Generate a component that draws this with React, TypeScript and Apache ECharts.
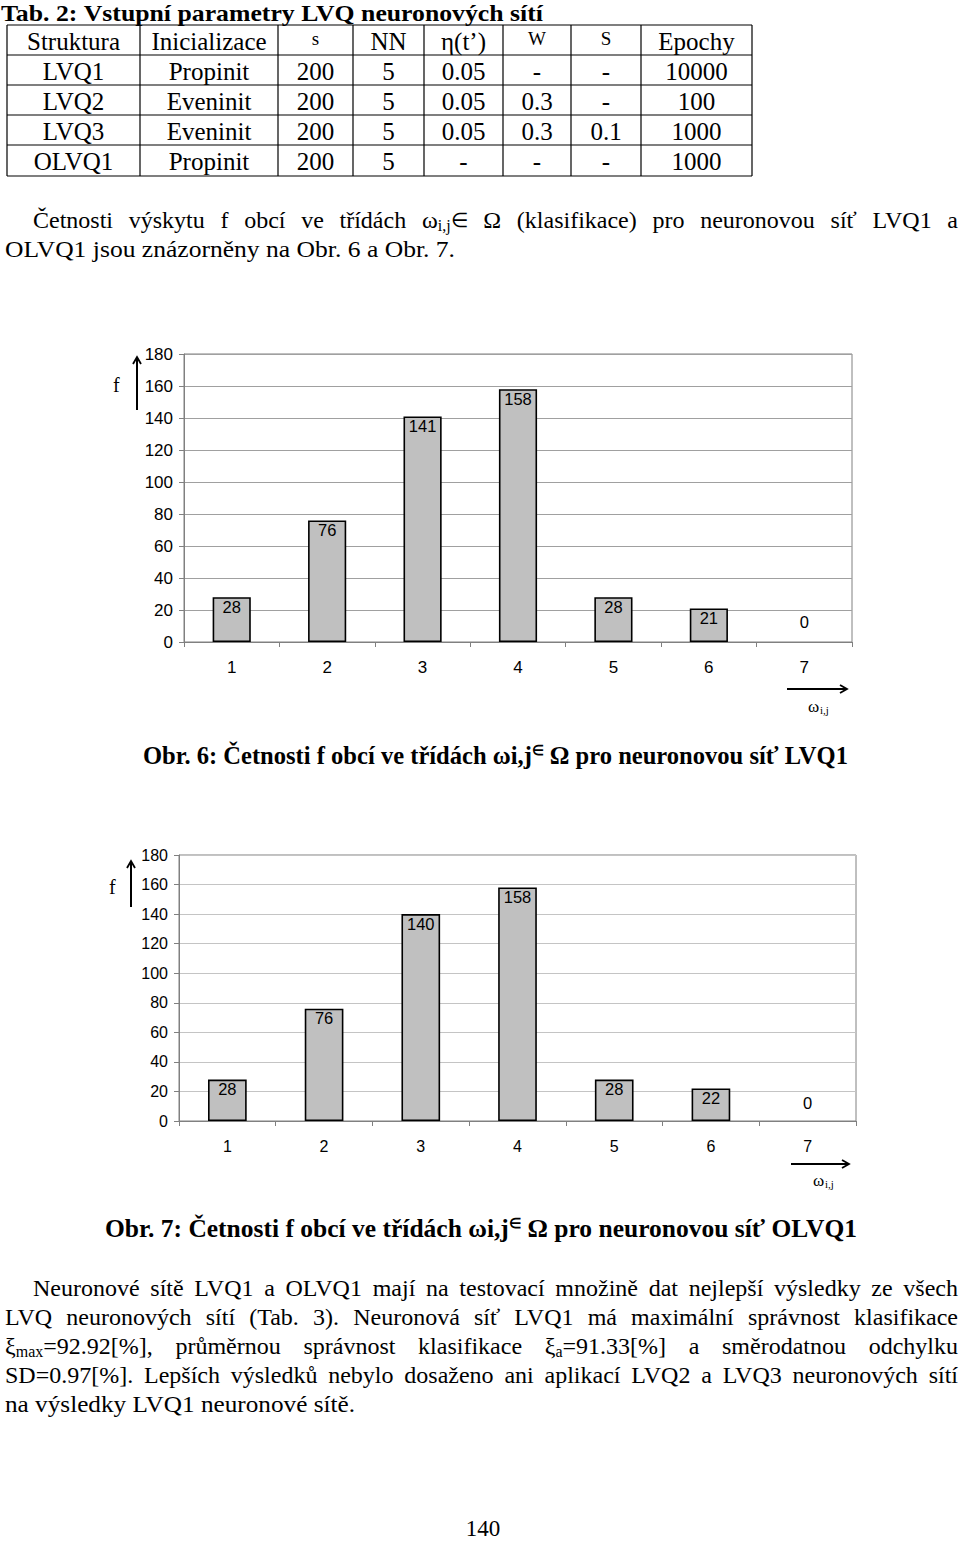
import React, { useEffect, useRef } from 'react';
import * as echarts from 'echarts';

// ---------- data ----------
const categories = ['1', '2', '3', '4', '5', '6', '7'];
const lvq1Counts = [28, 76, 141, 158, 28, 21, 0];
const olvq1Counts = [28, 76, 140, 158, 28, 22, 0];
const yMin = 0;
const yMax = 180;
const yStep = 20;

const tableHeader = ['Struktura', 'Inicializace', 's', 'NN', 'η(t’)', 'W', 'S', 'Epochy'];
const tableRows = [
  ['LVQ1', 'Propinit', '200', '5', '0.05', '-', '-', '10000'],
  ['LVQ2', 'Eveninit', '200', '5', '0.05', '0.3', '-', '100'],
  ['LVQ3', 'Eveninit', '200', '5', '0.05', '0.3', '0.1', '1000'],
  ['OLVQ1', 'Propinit', '200', '5', '-', '-', '-', '1000'],
];

// ---------- layout ----------
const SERIF = '"Liberation Serif", "Times New Roman", serif';
const SANS = '"Liberation Sans", Arial, sans-serif';
const colX = [7, 140, 278, 353, 424, 503, 571, 641, 752];
const rowY = [25, 55, 85, 115, 145, 176];

type Seg = { t: string; s?: number; dy?: number; b?: boolean };

let ctx: CanvasRenderingContext2D | null = null;
function mw(text: string, size: number, bold: boolean): number {
  if (!ctx) ctx = document.createElement('canvas').getContext('2d');
  ctx!.font = `${bold ? 'bold ' : ''}${size}px ${SERIF}`;
  return ctx!.measureText(text).width;
}
const words = (s: string): Seg[][] => s.split(' ').map((w) => [{ t: w }]);

function txt(x: number, y: number, text: string, size: number, o: any = {}) {
  return {
    type: 'text',
    x,
    y,
    silent: true,
    style: {
      text,
      fontSize: size,
      fontFamily: o.family || SERIF,
      fontWeight: o.bold ? 'bold' : 'normal',
      fill: o.color || '#000',
      textAlign: o.align || 'left',
      textVerticalAlign: 'middle',
    },
  };
}

// mode: 'justify' -> word spacing stretched to x1; 'fit' -> scaled to x1; 'left' -> natural
function line(tokens: Seg[][], x0: number, x1: number, yc: number, size: number, bold: boolean, mode: string) {
  const widths = tokens.map((tk) => tk.reduce((a, sg) => a + mw(sg.t, sg.s ?? size, sg.b ?? bold), 0));
  const total = widths.reduce((a, b) => a + b, 0);
  const sp = mw(' ', size, bold);
  let scale = 1;
  let gap = sp;
  if (mode === 'justify') {
    gap = (x1 - x0 - total) / (tokens.length - 1);
  } else if (mode === 'fit') {
    scale = (x1 - x0) / (total + sp * (tokens.length - 1));
  }
  const children: any[] = [];
  let cx = 0;
  tokens.forEach((tk) => {
    tk.forEach((sg) => {
      const s = sg.s ?? size;
      const b = sg.b ?? bold;
      children.push(txt(cx, sg.dy || 0, sg.t, s, { bold: b }));
      cx += mw(sg.t, s, b);
    });
    cx += gap;
  });
  return { type: 'group', x: x0, y: yc, scaleX: scale, children };
}

function arrowUp(x: number, yTop: number, yBot: number) {
  return [
    { type: 'line', silent: true, shape: { x1: x, y1: yBot, x2: x, y2: yTop + 1 }, style: { stroke: '#000', lineWidth: 2 } },
    { type: 'polyline', silent: true, shape: { points: [[x - 4, yTop + 7], [x, yTop], [x + 4, yTop + 7]] }, style: { stroke: '#000', lineWidth: 1.8, fill: 'none' } },
  ];
}
function arrowRight(x0: number, x1: number, y: number) {
  return [
    { type: 'line', silent: true, shape: { x1: x0, y1: y, x2: x1 - 1, y2: y }, style: { stroke: '#000', lineWidth: 2 } },
    { type: 'polyline', silent: true, shape: { points: [[x1 - 7, y - 4], [x1, y], [x1 - 7, y + 4]] }, style: { stroke: '#000', lineWidth: 1.8, fill: 'none' } },
  ];
}
function omega(x: number, y: number) {
  return [txt(x, y, 'ω', 17), txt(x + 12, y + 4, 'i,j', 11)];
}

function buildGraphic() {
  const els: any[] = [];
  // title
  els.push(line(words('Tab. 2: Vstupní parametry LVQ neuronových sítí'), 1, 543, 13, 24, true, 'fit'));
  // table grid
  rowY.forEach((y) => els.push({ type: 'line', silent: true, shape: { x1: colX[0], y1: y, x2: colX[colX.length - 1], y2: y }, style: { stroke: '#000', lineWidth: 1.2 } }));
  colX.forEach((x) => els.push({ type: 'line', silent: true, shape: { x1: x, y1: rowY[0], x2: x, y2: rowY[rowY.length - 1] }, style: { stroke: '#000', lineWidth: 1.2 } }));
  // table text
  const small = ['s', 'W', 'S'];
  tableHeader.forEach((h, i) => {
    const cxm = (colX[i] + colX[i + 1]) / 2;
    const isSmall = small.includes(h);
    els.push(txt(cxm, isSmall ? 38 : 41, h, isSmall ? 19 : 25, { align: 'center' }));
  });
  tableRows.forEach((r, ri) => {
    r.forEach((c, i) => {
      const cxm = (colX[i] + colX[i + 1]) / 2;
      els.push(txt(cxm, (rowY[ri + 1] + rowY[ri + 2]) / 2 + 1, c, 25, { align: 'center' }));
    });
  });
  // paragraph 1
  els.push(
    line(
      [
        ...words('Četnosti výskytu f obcí ve třídách'),
        [{ t: 'ω' }, { t: 'i,j', s: 16, dy: 5 }, { t: '∈', s: 20 }],
        ...words('Ω (klasifikace) pro neuronovou síť LVQ1 a'),
      ],
      33, 958, 220, 24, false, 'justify'
    )
  );
  els.push(line(words('OLVQ1 jsou znázorněny na Obr. 6 a Obr. 7.'), 5, 455, 249, 24, false, 'fit'));

  // chart 1 decorations
  els.push(txt(113, 385, 'f', 20));
  els.push(...arrowUp(137, 357, 410));
  els.push(...arrowRight(787, 847, 689));
  els.push(...omega(808, 706));
  els.push(
    line(
      [...words('Obr. 6: Četnosti f obcí ve třídách'), [{ t: 'ωi,j' }, { t: '∈', s: 14, dy: -5 }], ...words('Ω pro neuronovou síť LVQ1')],
      143, 848, 755, 25, true, 'fit'
    )
  );

  // chart 2 decorations
  els.push(txt(109, 887, 'f', 20));
  els.push(...arrowUp(131, 861, 907));
  els.push(...arrowRight(791, 849, 1164));
  els.push(...omega(813, 1180));
  els.push(
    line(
      [...words('Obr. 7: Četnosti f obcí ve třídách'), [{ t: 'ωi,j' }, { t: '∈', s: 14, dy: -5 }], ...words('Ω pro neuronovou síť OLVQ1')],
      105, 857, 1228, 25, true, 'fit'
    )
  );

  // paragraph 2
  const y0 = 1288;
  const lh = 29;
  els.push(line(words('Neuronové sítě LVQ1 a OLVQ1 mají na testovací množině dat nejlepší výsledky ze všech'), 33, 958, y0, 24, false, 'justify'));
  els.push(line(words('LVQ neuronových sítí (Tab. 3). Neuronová síť LVQ1 má maximální správnost klasifikace'), 5, 958, y0 + lh, 24, false, 'justify'));
  els.push(
    line(
      [
        [{ t: 'ξ' }, { t: 'max', s: 16, dy: 5 }, { t: '=92.92[%],' }],
        ...words('průměrnou správnost klasifikace'),
        [{ t: 'ξ' }, { t: 'a', s: 16, dy: 5 }, { t: '=91.33[%]' }],
        ...words('a směrodatnou odchylku'),
      ],
      5, 958, y0 + 2 * lh, 24, false, 'justify'
    )
  );
  els.push(line(words('SD=0.97[%]. Lepších výsledků nebylo dosaženo ani aplikací LVQ2 a LVQ3 neuronových sítí'), 5, 958, y0 + 3 * lh, 24, false, 'justify'));
  els.push(line(words('na výsledky LVQ1 neuronové sítě.'), 5, 355, y0 + 4 * lh, 24, false, 'fit'));

  // page number
  els.push(txt(483, 1528, '140', 23, { align: 'center' }));
  return els;
}

function axes(gridIndex: number, fontSize: number, gridColor: string) {
  const x = {
    gridIndex,
    type: 'category',
    data: categories,
    axisLine: { lineStyle: { color: '#808080', width: 1 } },
    axisTick: { show: true, length: 5, lineStyle: { color: '#808080' } },
    axisLabel: { color: '#000', fontSize, fontFamily: SANS, margin: 17 },
    splitLine: { show: false },
  };
  const y = {
    gridIndex,
    type: 'value',
    min: yMin,
    max: yMax,
    interval: yStep,
    axisLine: { show: true, lineStyle: { color: '#808080', width: 1 } },
    axisTick: { show: true, length: 5, lineStyle: { color: '#808080' } },
    axisLabel: { color: '#000', fontSize, fontFamily: SANS, margin: 11 },
    splitLine: { show: true, lineStyle: { color: gridColor, width: 1 } },
  };
  return { x, y };
}

function bars(values: number[], idx: number, zeroDist: number) {
  return {
    type: 'bar',
    xAxisIndex: idx,
    yAxisIndex: idx,
    barWidth: '40%',
    data: values.map((v) =>
      v === 0 ? { value: v, itemStyle: { borderWidth: 0, color: 'transparent' }, label: { position: 'top', distance: zeroDist } } : v
    ),
    itemStyle: { color: '#c0c0c0', borderColor: '#000', borderWidth: 1.6 },
    label: { show: true, position: 'insideTop', distance: 1, fontSize: 16.5, fontFamily: SANS, color: '#000' },
  };
}

export default function App() {
  const ref = useRef<HTMLDivElement>(null);
  useEffect(() => {
    if (!ref.current) return;
    const chart = echarts.init(ref.current, undefined, { renderer: 'svg' });
    const a1 = axes(0, 17, '#a0a0a0');
    const a2 = axes(1, 16, '#c4c4c4');
    chart.setOption({
      animation: false,
      backgroundColor: '#fff',
      grid: [
        { left: 184, top: 354, width: 668, height: 288, show: true, borderColor: '#808080', borderWidth: 1 },
        { left: 179, top: 855, width: 677, height: 266, show: true, borderColor: '#808080', borderWidth: 1 },
      ],
      xAxis: [a1.x, a2.x],
      yAxis: [a1.y, a2.y],
      series: [bars(lvq1Counts, 0, 12), bars(olvq1Counts, 1, 10)],
      graphic: { elements: buildGraphic() },
    });
    return () => chart.dispose();
  }, []);
  return <div ref={ref} style={{ position: 'absolute', left: 0, top: 0, width: 960, height: 1543 }} />;
}
